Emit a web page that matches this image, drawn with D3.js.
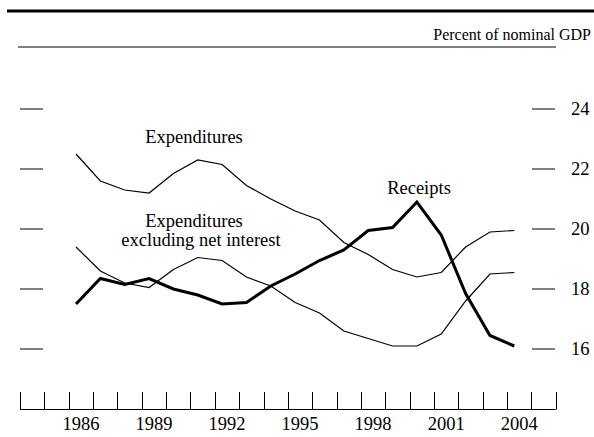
<!DOCTYPE html>
<head>
  <meta charset="utf-8">
  <title>Receipts and expenditures</title>
  <script src="https://cdn.jsdelivr.net/npm/d3@7"></script>
  <style>
    body { margin: 0; background: #fff; }
    text { font-family: "Liberation Serif", "Times New Roman", serif; fill: #000; }
  </style>
</head>

<body>
  <script type="text/javascript">
    var WIDTH = 594;
    var HEIGHT = 437;

    // data, percent of nominal GDP
    var years = d3.range(1986, 2005);
    var expenditures = [22.5, 21.6, 21.3, 21.2, 21.85, 22.3, 22.15, 21.45, 21.0, 20.6,
                        20.3, 19.55, 19.15, 18.65, 18.4, 18.55, 19.4, 19.9, 19.95];
    var exclInterest = [19.4, 18.6, 18.2, 18.05, 18.65, 19.05, 18.95, 18.4, 18.1, 17.55,
                        17.2, 16.6, 16.35, 16.1, 16.1, 16.5, 17.6, 18.5, 18.55];
    var receipts     = [17.5, 18.35, 18.15, 18.35, 18.0, 17.8, 17.5, 17.55, 18.1, 18.5,
                        18.95, 19.3, 19.95, 20.05, 20.9, 19.8, 17.85, 16.45, 16.1];
    var yTicks = [16, 18, 20, 22, 24];
    var xLabels = [1986, 1989, 1992, 1995, 1998, 2001, 2004];
    var tickYears = d3.range(1984, 2007);

    var svg = d3.select("body").append("svg")
                .attr("width", WIDTH)
                .attr("height", HEIGHT);

    var x = d3.scaleLinear().domain([1984, 2006]).range([20, 555.7]);
    var y = d3.scaleLinear().domain([16, 24]).range([349, 109]);

    // top rules + unit
    svg.append("line").attr("x1", 7).attr("x2", 594).attr("y1", 11).attr("y2", 11)
       .attr("stroke", "#000").attr("stroke-width", 3);
    svg.append("line").attr("x1", 18).attr("x2", 556).attr("y1", 47).attr("y2", 47)
       .attr("stroke", "#000").attr("stroke-width", 1);
    svg.append("text").attr("x", 591).attr("y", 40).attr("text-anchor", "end")
       .attr("font-size", 16).text("Percent of nominal GDP");

    // y tick dashes on both sides
    var yg = svg.append("g");
    yg.selectAll(".tl").data(yTicks).enter().append("line")
      .attr("x1", 20).attr("x2", 43)
      .attr("y1", function(d){ return y(d); }).attr("y2", function(d){ return y(d); })
      .attr("stroke", "#000");
    yg.selectAll(".tr").data(yTicks).enter().append("line")
      .attr("x1", 532).attr("x2", 555)
      .attr("y1", function(d){ return y(d); }).attr("y2", function(d){ return y(d); })
      .attr("stroke", "#000");
    yg.selectAll("text").data(yTicks).enter().append("text")
      .attr("x", 571).attr("y", function(d){ return y(d) + 6; })
      .attr("font-size", 18.5).text(function(d){ return d; });

    // x axis
    var xg = svg.append("g");
    xg.append("line").attr("x1", x(1984)).attr("x2", x(2006)).attr("y1", 409.5).attr("y2", 409.5)
      .attr("stroke", "#000");
    xg.selectAll(".xt").data(tickYears).enter().append("line")
      .attr("x1", function(d){ return Math.round(x(d)) + 0.5; })
      .attr("x2", function(d){ return Math.round(x(d)) + 0.5; })
      .attr("y1", 392).attr("y2", 409.5)
      .attr("stroke", "#000");
    xg.selectAll("text").data(xLabels).enter().append("text")
      .attr("x", function(d){ return x(d + 0.5); }).attr("y", 430)
      .attr("text-anchor", "middle").attr("font-size", 18.5)
      .text(function(d){ return d; });

    // lines
    var line = d3.line()
      .x(function(d, i){ return x(years[i] + 0.3); })
      .y(function(d){ return y(d); });

    svg.append("path").datum(expenditures).attr("d", line)
       .attr("fill", "none").attr("stroke", "#000").attr("stroke-width", 1.2);
    svg.append("path").datum(exclInterest).attr("d", line)
       .attr("fill", "none").attr("stroke", "#000").attr("stroke-width", 1.2);
    svg.append("path").datum(receipts).attr("d", line)
       .attr("fill", "none").attr("stroke", "#000").attr("stroke-width", 3)
       .attr("stroke-linejoin", "miter");

    // labels
    svg.append("text").attr("x", 194).attr("y", 143).attr("text-anchor", "middle")
       .attr("font-size", 18.5).text("Expenditures");
    svg.append("text").attr("x", 194).attr("y", 227).attr("text-anchor", "middle")
       .attr("font-size", 18.5).text("Expenditures");
    svg.append("text").attr("x", 201).attr("y", 246).attr("text-anchor", "middle")
       .attr("font-size", 18.5).text("excluding net interest");
    svg.append("text").attr("x", 419).attr("y", 194).attr("text-anchor", "middle")
       .attr("font-size", 18.5).text("Receipts");
  </script>
</body>
